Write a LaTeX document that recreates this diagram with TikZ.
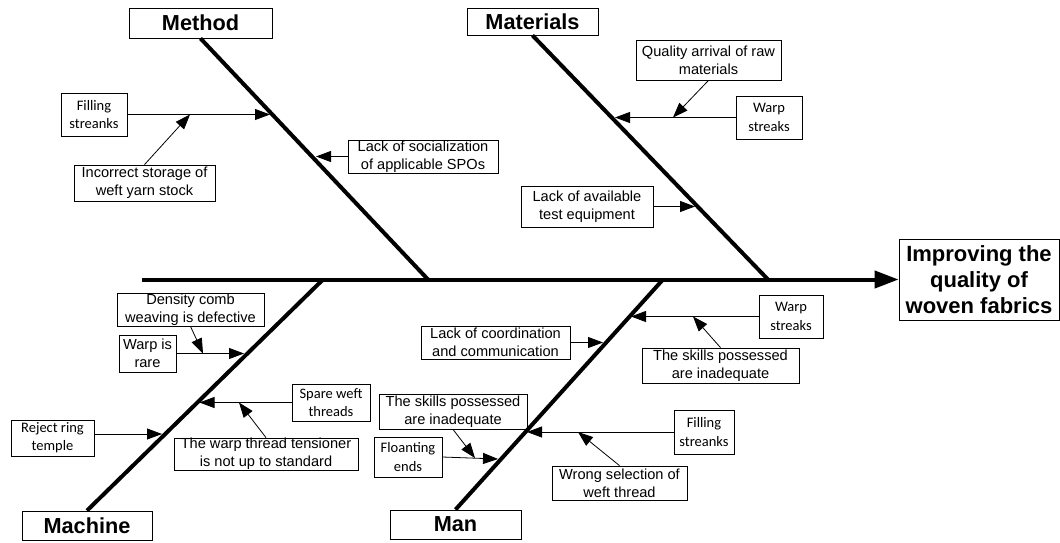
\documentclass[tikz,border=0pt]{standalone}
\usepackage{fontspec}
\setmainfont{Liberation Sans}
\newfontfamily\calfont{Carlito}
\usetikzlibrary{arrows.meta}
\begin{document}
\begin{tikzpicture}[x=1pt,y=-1pt,
  sz/.style 2 args={minimum width=#1pt, minimum height=#2pt},
  box/.style={draw, line width=0.8pt, inner sep=0pt, align=center, font=\fontsize{14.6}{17.8}\selectfont},
  cbox/.style={draw, line width=0.8pt, inner sep=0pt, align=center, font=\calfont\fontsize{14.5}{18.3}\selectfont},
  cat/.style={draw, line width=0.8pt, inner sep=0pt, align=center, font=\bfseries\fontsize{21.7}{26}\selectfont},
  bone/.style={line width=4pt},
  con/.style={line width=0.8pt, -{Triangle[length=15pt,width=11pt]}},
  sub/.style={line width=0.8pt, -{Triangle[length=15pt,width=11pt]}},
]
\useasboundingbox (0,0) rectangle (1060,542);

% category and head boxes
\node[cat, sz={143}{30}] (meth) at (200.5,23) {Method};
\node[cat, sz={131}{27}] (mat) at (532.5,21.5) {Materials};
\node[cat, sz={130}{29}] (mach) at (87,525.5) {Machine};
\node[cat, sz={131}{29}] (man) at (455.5,524.5) {Man};
\node[cat, sz={160}{81}, font=\bfseries\fontsize{22}{26}\selectfont] (head) at (979,279.5) {Improving the\\quality of\\woven fabrics};

% spine and bones
\coordinate (sp0) at (142,279.5);
\coordinate (mj) at (428,279.5);
\coordinate (tj) at (768,279.5);
\coordinate (cj) at (323,279.5);
\coordinate (nj) at (663,279.5);
\draw[bone, -{Triangle[length=24pt,width=17pt]}] (sp0) -- (head.west);
\draw[bone] (meth.south) -- (mj);
\draw[bone] (mat.south) -- (tj);
\draw[bone] (mach.north) -- (cj);
\draw[bone] (man.north) -- (nj);

% Method causes
\node[cbox, sz={66}{43}] (fs1) at (94,114.5) {Filling\\streanks};
\node[box, sz={141}{36}] (ist) at (144.5,183) {Incorrect storage of\\weft yarn stock};
\node[box, sz={150}{33}] (soc) at (423,156.5) {Lack of socialization\\of applicable SPOs};
\coordinate (t1) at (270,114.5);
\coordinate (t1b) at (190,114.5);
\coordinate (t2) at (316,156.5);
\draw[con] (fs1.east) -- (t1);
\draw[sub] (ist.north) -- (t1b);
\draw[con] (soc.west) -- (t2);

% Materials causes
\node[box, sz={145}{40}] (qar) at (708.5,60) {Quality arrival of raw\\materials};
\node[cbox, sz={66}{43}] (ws1) at (769,117.5) {Warp\\streaks};
\node[box, sz={132}{41}] (lae) at (587,206.5) {Lack of available\\test equipment};
\coordinate (t3) at (615,117.5);
\coordinate (t3b) at (673,117.5);
\coordinate (t4) at (695,206.5);
\draw[con] (ws1.west) -- (t3);
\draw[sub] (qar.south) -- (t3b);
\draw[con] (lae.east) -- (t4);

% Machine causes
\node[box, sz={147}{33}] (dcw) at (190.5,309.5) {Density comb\\weaving is defective};
\node[box, sz={57}{37}] (wir) at (147.5,353.5) {Warp is\\rare};
\node[cbox, sz={78}{37}] (swt) at (331,402.5) {Spare weft\\threads};
\node[box, sz={184}{32}] (wtt) at (266,454) {The warp thread tensioner\\is not up to standard};
\node[cbox, sz={83}{36}] (rrt) at (52.5,438) {Reject ring\\temple};
\coordinate (t5) at (244,353.5);
\coordinate (t5b) at (203,353.5);
\coordinate (t6) at (199.5,402.5);
\coordinate (t6b) at (239,402.5);
\coordinate (t7) at (162,434);
\draw[con] (wir.east) -- (t5);
\draw[sub] (dcw.south) -- (t5b);
\draw[con] (swt.west) -- (t6);
\draw[sub] (wtt.north) -- (t6b);
\draw[con] (rrt.east |- t7) -- (t7);

% Man causes
\node[box, sz={149}{33}] (lcc) at (495.5,342.5) {Lack of coordination\\and communication};
\node[cbox, sz={64}{43}] (ws2) at (791,316.5) {Warp\\streaks};
\node[box, sz={157}{35}] (skr) at (720.5,365.5) {The skills possessed\\are inadequate};
\node[box, sz={148}{35}] (skl) at (453,411.5) {The skills possessed\\are inadequate};
\node[cbox, sz={68}{40}] (fle) at (408,457) {Floanting\\ends};
\node[cbox, sz={60}{44}] (fs2) at (704,432) {Filling\\streanks};
\node[box, sz={135}{34}] (wsw) at (619.5,483) {Wrong selection of\\weft thread};
\coordinate (t8) at (603,342.5);
\coordinate (t9) at (631,316.5);
\coordinate (t9b) at (693,316.5);
\coordinate (t10) at (498,459);
\coordinate (t10b) at (475,458);
\coordinate (t11) at (527,432);
\coordinate (t11b) at (578,432);
\draw[con] (lcc.east) -- (t8);
\draw[con] (ws2.west) -- (t9);
\draw[sub] (skr.north) -- (t9b);
\draw[con] (fle.east) -- (t10);
\draw[sub] (skl.south) -- (t10b);
\draw[con] (fs2.west) -- (t11);
\draw[sub] (wsw.north) -- (t11b);
\end{tikzpicture}
\end{document}
